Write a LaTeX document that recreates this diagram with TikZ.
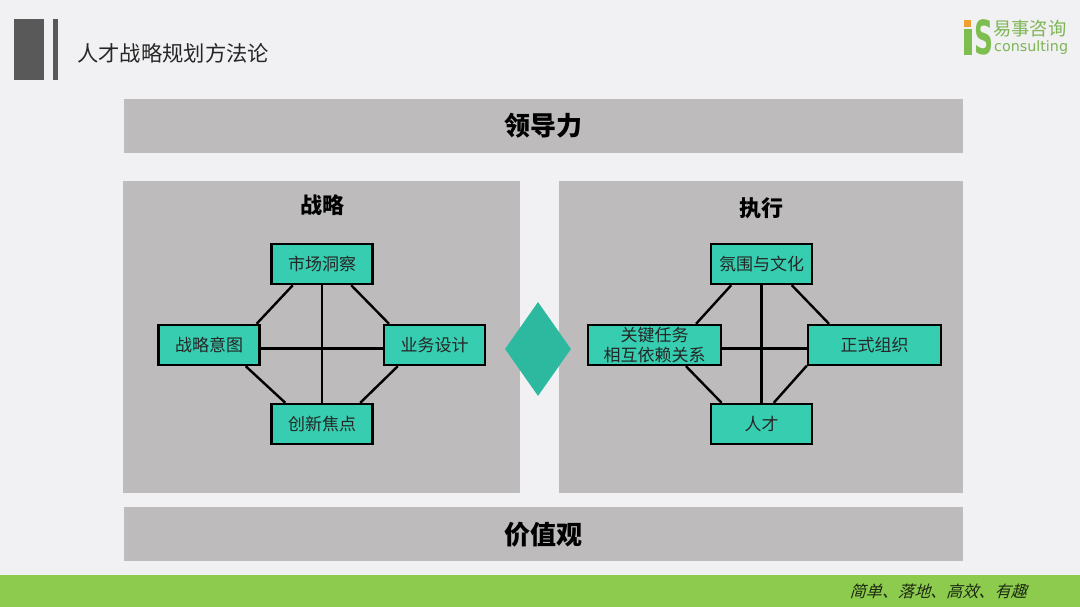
\documentclass[tikz,border=0pt]{standalone}
\usepackage{fontspec}
\setmainfont{Noto Sans CJK SC}
\newfontfamily\logofont{DejaVu Sans}
\usetikzlibrary{shapes.geometric}
\definecolor{bgc}{HTML}{F1F0F2}
\definecolor{panelc}{HTML}{BDBBBC}
\definecolor{tealc}{HTML}{36CDB0}
\definecolor{diamc}{HTML}{2DB8A0}
\definecolor{barc}{HTML}{8CCB4E}
\definecolor{darkc}{HTML}{595959}
\definecolor{logoc}{HTML}{7DBE4E}
\definecolor{dotc}{HTML}{F0A030}
\definecolor{textc}{HTML}{262626}
\tikzset{
  x=1pt,y=-1pt,
  boxn/.style={draw=black,line width=2.4pt,fill=tealc,inner sep=0pt,minimum height=40pt,minimum width=101pt,text=textc,font=\fontsize{17}{20}\selectfont,align=center},
  widen/.style={minimum width=133pt},
  link/.style={draw=black,line width=2.4pt},
  head/.style={inner sep=0pt,text=black,font=\fontsize{22}{26}\bfseries\selectfont},
  headb/.style={inner sep=0pt,text=black,font=\fontsize{26}{30}\bfseries\selectfont},
}
\begin{document}
\begin{tikzpicture}
\useasboundingbox (0,0) rectangle (1080,607);
\fill[bgc] (0,0) rectangle (1080,607);
% header
\fill[darkc] (14,19) rectangle (44,80);
\fill[darkc] (53,19) rectangle (58,80);
\node[inner sep=0pt,text=textc,anchor=west,font=\fontsize{21.3}{26}\selectfont] (title) at (77,53) {人才战略规划方法论};
% logo
\fill[logoc] (964,29) rectangle (972,55);
\fill[dotc] (964,20) rectangle (971,27);
\node[inner sep=0pt,text=logoc,xscale=0.56,transform shape,font=\logofont\fontsize{47}{47}\bfseries\selectfont] (logoS) at (984,37.5) {S};
\node[inner sep=0pt,anchor=west,text=logoc!85!gray,font=\fontsize{18.3}{20}\selectfont] (logoa) at (993,29) {易事咨询};
\node[inner sep=0pt,anchor=west,text=logoc!85!gray,font=\logofont\fontsize{14.3}{16}\selectfont] (logob) at (994,47.5) {consulting};
% bands
\fill[panelc] (124,99) rectangle (963,153);
\fill[panelc] (124,507) rectangle (963,561);
\fill[panelc] (123,181) rectangle (520,493);
\fill[panelc] (559,181) rectangle (963,493);
\node[headb] (lead) at (543,126) {领导力};
\node[headb] (value) at (543,535) {价值观};
\node[head] (hl) at (322,205) {战略};
\node[head] (hr) at (761,208) {执行};
% diamond
\node[diamond,fill=diamc,draw=none,minimum width=66pt,minimum height=94pt,inner sep=0pt,aspect=0.7] (dia) at (538,349) {};
% left group
\node[boxn] (a) at (322,264) {市场洞察};
\node[boxn] (l) at (209,345) {战略意图};
\node[boxn] (r) at (434.5,345) {业务设计};
\node[boxn] (d) at (322,424) {创新焦点};
\draw[link] (a) -- (d);
\draw[link] (l.-4.5) -- (r.184.4);
\draw[link] (a.216) -- (l.24.5);
\draw[link] (a.324) -- (r.155.7);
\draw[link] (l.-30) -- (d.150);
\draw[link] (r.210) -- (d.29);
% right group
\node[boxn] (ta) at (761.5,264) {氛围与文化};
\node[boxn,widen] (tl) at (654.5,345) {关键任务\\相互依赖关系};
\node[boxn,widen] (tr) at (874.5,345) {正式组织};
\node[boxn] (td) at (761.5,424) {人才};
\draw[link] (ta) -- (td);
\draw[link] (tl.-3.4) -- (tr.183.4);
\draw[link] (ta.215) -- (tl.27.4);
\draw[link] (ta.325) -- (tr.155);
\draw[link] (tl.-34.5) -- (td.152.6);
\draw[link] (tr.197.5) -- (td.60);
% footer
\fill[barc] (0,575) rectangle (1080,607);
\node[inner sep=0pt,xslant=0.3,transform shape,text=black!80!barc,font=\fontsize{16.1}{18}\selectfont] (foot) at (940,591) {简单、落地、高效、有趣};
\end{tikzpicture}
\end{document}
